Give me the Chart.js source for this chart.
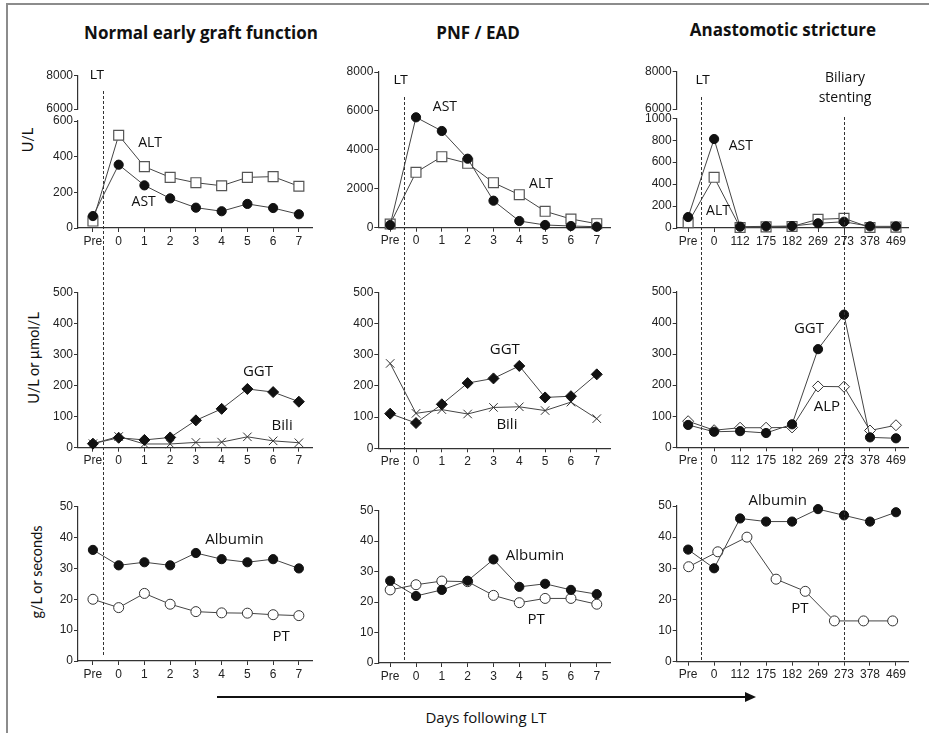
<!DOCTYPE html>
<html>
<head>
<meta charset="utf-8">
<script src="https://cdn.jsdelivr.net/npm/chart.js@4.4.1/dist/chart.umd.min.js"></script>
<style>
  body { margin: 0; background: #fff; width: 929px; height: 733px; overflow: hidden; position: relative; font-family: "Open Sans", sans-serif; }
  #frame { position: absolute; left: 6px; top: 3px; width: 940px; height: 760px; border-left: 2px solid #8c8c8c; border-top: 2px solid #8c8c8c; }
  canvas { position: absolute; }
  .title { position: absolute; font-weight: bold; font-size: 17px; color: #111; white-space: nowrap; transform: translate(-50%, -50%); }
  .ytitle { position: absolute; font-family: Lato, sans-serif; font-size: 14.5px; color: #111; white-space: nowrap; transform: translate(-50%, -50%) rotate(-90deg); }
  #arrow { position: absolute; left: 217px; top: 696px; width: 530px; height: 2px; background: #111; }
  #arrowhead { position: absolute; left: 745px; top: 692px; width: 0; height: 0; border-left: 11px solid #111; border-top: 5px solid transparent; border-bottom: 5px solid transparent; }
  #xlab { position: absolute; left: 486px; top: 717px; font-size: 15px; color: #111; white-space: nowrap; transform: translate(-50%, -50%); }
</style>
</head>
<body>
<div id="frame"></div>
<div class="title" style="left:201px;top:32px">Normal early graft function</div>
<div class="title" style="left:478px;top:32px">PNF / EAD</div>
<div class="title" style="left:783px;top:29px">Anastomotic stricture</div>
<div class="ytitle" style="left:27px;top:140px">U/L</div>
<div class="ytitle" style="left:33px;top:358px">U/L or µmol/L</div>
<div class="ytitle" style="left:36px;top:572px">g/L or seconds</div>
<div id="arrow"></div><div id="arrowhead"></div>
<div id="xlab">Days following LT</div>
<script>
// ---- categories ----
const daysEarly = ["Pre", "0", "1", "2", "3", "4", "5", "6", "7"];
const daysLate = ["Pre", "0", "112", "175", "182", "269", "273", "378", "469"];

// ---- transaminases (U/L) ----
const normalAST = [67, 355, 239, 166, 114, 94, 135, 112, 77];
const normalALT = [39, 520, 344, 284, 254, 237, 284, 288, 234];
const pnfAST = [139, 5672, 4969, 3545, 1387, 344, 139, 87, 51];
const pnfALT = [190, 2846, 3648, 3309, 2312, 1696, 843, 447, 206];
const strictAST = [100, 811, 12, 15, 18, 43, 57, 15, 15];
const strictALT = [48, 462, 5, 10, 14, 79, 88, 5, 8];

// ---- cholestasis (U/L or umol/L) ----
const normalGGT = [13, 32, 25, 33, 88, 125, 189, 179, 148];
const normalBili = [13, 36, 12, 12, 17, 18, 35, 22, 16];
const pnfGGT = [111, 81, 141, 209, 224, 264, 163, 167, 237];
const pnfBili = [272, 112, 124, 110, 131, 133, 121, 148, 95];
const strictGGT = [72, 50, 52, 46, 74, 316, 427, 32, 29];
const strictALP = [84, 55, 63, 63, 64, 196, 195, 54, 71];

// ---- synthetic function (g/L or seconds) ----
const normalAlb = [36, 31, 32, 31, 35, 33, 32, 33, 30];
const normalPT = [20, 17.3, 21.9, 18.4, 16, 15.6, 15.5, 15, 14.7];
const pnfAlb = [27, 22, 24, 27, 34, 25, 26, 24, 22.6];
const pnfPT = [24, 25.7, 26.9, 26.7, 22.2, 19.8, 21.2, 21.2, 19.3];
const strictAlb = [36, 30, 46, 45, 45, 49, 47, 45, 48];
const strictPT = [30.5, 35.3, 40, 26.5, 22.6, 13.1, 13.1, 13.1];

// ---- axis ticks ----
const ticksTopBreak = [6000, 8000];
const ticksLow600 = [0, 200, 400, 600];
const ticksLow1000 = [0, 200, 400, 600, 800, 1000];
const ticks8000 = [0, 2000, 4000, 6000, 8000];
const ticks500 = [0, 100, 200, 300, 400, 500];
const ticks50 = [0, 10, 20, 30, 40, 50];

// layout
const COLS = [
  { left: 8, right: 330, areaLeft: 78, areaRight: 312, xmin: -0.58, xmax: 8.51, lt: 0.41 },
  { left: 335, right: 625, areaLeft: 378.3, areaRight: 610.2, xmin: -0.46, xmax: 8.52, lt: 0.52 },
  { left: 632, right: 929, areaLeft: 676.7, areaRight: 908.7, xmin: -0.44, xmax: 8.49, lt: 0.51 }
];
const ROWS = [{ top: 45, bottom: 247 }, { top: 247, bottom: 467 }, { top: 467, bottom: 690 }];
const Y_W = 40, X_H = 17;
const INK = "#333";
const TICK_FONT = { family: "'Liberation Sans', Arial, sans-serif", size: 12 };
const TAG_FONT_TOP = "14px 'Open Sans', sans-serif";
const TAG_FONT = "15px 'Open Sans', sans-serif";
const LT_FONT = "13px 'Liberation Sans', Arial, sans-serif";

const mk = {
  dot: { pointStyle: "circle", pointRadius: 4.6, pointBackgroundColor: "#111", pointBorderColor: "#111" },
  square: { pointStyle: "rect", pointRadius: 7, pointBackgroundColor: "#fff", pointBorderColor: "#555", pointBorderWidth: 1.2 },
  diamond: { pointStyle: "rectRot", pointRadius: 5.5, pointBackgroundColor: "#111", pointBorderColor: "#111" },
  openDiamond: { pointStyle: "rectRot", pointRadius: 5.5, pointBackgroundColor: "#fff", pointBorderColor: "#333", pointBorderWidth: 1 },
  cross: { pointStyle: "crossRot", pointRadius: 6, pointBackgroundColor: "#fff", pointBorderColor: "#333", pointBorderWidth: 1 },
  ring: { pointStyle: "circle", pointRadius: 5, pointBackgroundColor: "#fff", pointBorderColor: "#333", pointBorderWidth: 1 }
};

function series(data, marker, extra) {
  return Object.assign({
    data: data.map((v, i) => ({ x: i, y: v })),
    borderColor: "#444", borderWidth: 1, tension: 0, fill: false, clip: false,
    xAxisID: "x", yAxisID: "y"
  }, mk[marker], extra || {});
}

function yScale(min, max, ticks, extra) {
  return Object.assign({
    type: "linear", position: "left", min, max,
    afterBuildTicks: s => { s.ticks = ticks.map(v => ({ value: v })); },
    afterFit: s => { s.width = Y_W; },
    ticks: { font: TICK_FONT, color: "#222", padding: 1, autoSkip: false, callback: v => String(v) },
    grid: { drawOnChartArea: false, tickLength: 4, color: INK },
    border: { color: INK, width: 1.2 }
  }, extra || {});
}

function overlay(lines, tags, rowTop, tagFont) {
  return {
    id: "overlay",
    afterDatasetsDraw(chart) {
      const ctx = chart.ctx, xs = chart.scales.x;
      ctx.save();
      ctx.strokeStyle = "#333";
      ctx.lineWidth = 1;
      ctx.setLineDash([3, 2]);
      lines.forEach(l => {
        const px = Math.round(xs.getPixelForValue(l.x)) + 0.5;
        ctx.beginPath();
        ctx.moveTo(px, l.y0 - rowTop);
        ctx.lineTo(px, l.y1 - rowTop);
        ctx.stroke();
      });
      ctx.setLineDash([]);
      ctx.fillStyle = "#111";
      ctx.textAlign = "center";
      ctx.textBaseline = "middle";
      tags.forEach(t => {
        const ys = chart.scales[t.axis || "y"];
        ctx.font = t.font || tagFont;
        ctx.fillText(t.text, xs.getPixelForValue(t.x), ys.getPixelForValue(t.y));
      });
      ctx.restore();
    }
  };
}

function panel(p) {
  const col = COLS[p.col], row = ROWS[p.row];
  const cv = document.createElement("canvas");
  cv.width = col.right - col.left;
  cv.height = row.bottom - row.top;
  cv.style.left = col.left + "px";
  cv.style.top = row.top + "px";
  document.body.appendChild(cv);

  const scales = {
    x: {
      type: "linear", position: "bottom", min: col.xmin, max: col.xmax,
      afterBuildTicks: s => { s.ticks = p.labels.map((_, i) => ({ value: i })); },
      afterFit: s => { s.height = X_H; },
      ticks: { callback: v => p.labels[v], autoSkip: false, maxRotation: 0, padding: 2, font: TICK_FONT, color: "#222" },
      grid: { drawOnChartArea: false, tickLength: 4, color: INK },
      border: { color: INK, width: 1.2 }
    }
  };
  if (p.extraX) Object.assign(scales, p.extraX);
  if (p.brk) {
    // broken axis: left boxes are laid out by descending weight, top first
    scales.yTop = yScale(6000, 8000, ticksTopBreak, { stack: "brk", stackWeight: p.brk[0], weight: 3 });
    scales.yGap = { type: "linear", position: "left", display: false, stack: "brk", stackWeight: p.brk[1], weight: 2, min: 0, max: 1 };
    scales.y = yScale(0, p.yMax, p.yTicks, { stack: "brk", stackWeight: p.brk[2], weight: 1 });
  } else {
    scales.y = yScale(0, p.yMax, p.yTicks);
  }

  const lines = [{ x: col.lt, y0: p.lt[0], y1: p.lt[1] }].concat(p.moreLines || []);
  new Chart(cv, {
    type: "line",
    data: { datasets: p.datasets },
    options: {
      responsive: false, animation: false, events: [],
      layout: {
        padding: {
          left: col.areaLeft - col.left - Y_W,
          right: col.right - col.areaRight,
          top: p.top - row.top,
          bottom: row.bottom - p.bottom - X_H
        }
      },
      scales,
      plugins: { legend: { display: false }, tooltip: { enabled: false } }
    },
    plugins: [overlay(lines, p.tags, row.top, p.row === 0 ? TAG_FONT_TOP : TAG_FONT)]
  });
}

// ---- row 1: AST / ALT ----
panel({
  col: 0, row: 0, top: 75.3, bottom: 228, labels: daysEarly, brk: [33.7, 12, 107], yMax: 600, yTicks: ticksLow600,
  lt: [91, 247],
  datasets: [series(normalAST, "dot"), series(normalALT, "square")],
  tags: [
    { text: "LT", x: 0.16, y: 8000, axis: "yTop", font: LT_FONT },
    { text: "ALT", x: 2.22, y: 477 },
    { text: "AST", x: 1.97, y: 146 }
  ]
});
panel({
  col: 1, row: 0, top: 72, bottom: 227.7, labels: daysEarly, yMax: 8000, yTicks: ticks8000,
  lt: [97, 247],
  datasets: [series(pnfAST, "dot"), series(pnfALT, "square")],
  tags: [
    { text: "LT", x: 0.41, y: 7589, font: LT_FONT },
    { text: "AST", x: 2.12, y: 6202 },
    { text: "ALT", x: 5.84, y: 2245 }
  ]
});
panel({
  col: 2, row: 0, top: 71.7, bottom: 228, labels: daysLate, brk: [37.3, 9.3, 109.7], yMax: 1000, yTicks: ticksLow1000,
  lt: [97, 247], moreLines: [{ x: 6, y0: 117, y1: 247 }],
  datasets: [series(strictAST, "dot"), series(strictALT, "square")],
  tags: [
    { text: "LT", x: 0.57, y: 7555, axis: "yTop", font: LT_FONT },
    { text: "Biliary", x: 6.04, y: 7678, axis: "yTop" },
    { text: "stenting", x: 6.04, y: 6574, axis: "yTop" },
    { text: "AST", x: 2.03, y: 750 },
    { text: "ALT", x: 1.15, y: 155 }
  ]
});

// ---- row 2: GGT / Bili / ALP ----
panel({
  col: 0, row: 1, top: 292.3, bottom: 447.7, labels: daysEarly, yMax: 500, yTicks: ticks500,
  lt: [247, 467],
  datasets: [series(normalGGT, "diamond"), series(normalBili, "cross")],
  tags: [{ text: "GGT", x: 6.41, y: 245 }, { text: "Bili", x: 7.35, y: 71 }]
});
panel({
  col: 1, row: 1, top: 292.3, bottom: 448.3, labels: daysEarly, yMax: 500, yTicks: ticks500,
  lt: [247, 467],
  datasets: [series(pnfGGT, "diamond"), series(pnfBili, "cross")],
  tags: [{ text: "GGT", x: 4.44, y: 317 }, { text: "Bili", x: 4.52, y: 77 }]
});
panel({
  col: 2, row: 1, top: 292, bottom: 447.3, labels: daysLate, yMax: 500, yTicks: ticks500,
  lt: [247, 467], moreLines: [{ x: 6, y0: 247, y1: 467 }],
  datasets: [series(strictGGT, "dot"), series(strictALP, "openDiamond")],
  tags: [{ text: "GGT", x: 4.65, y: 383 }, { text: "ALP", x: 5.34, y: 131 }]
});

// ---- row 3: Albumin / PT ----
panel({
  col: 0, row: 2, top: 506.7, bottom: 661, labels: daysEarly, yMax: 50, yTicks: ticks50,
  lt: [467, 657],
  datasets: [series(normalAlb, "dot"), series(normalPT, "ring")],
  tags: [{ text: "Albumin", x: 5.5, y: 39.2 }, { text: "PT", x: 7.31, y: 7.9 }]
});
panel({
  col: 1, row: 2, top: 510.7, bottom: 663, labels: daysEarly, yMax: 50, yTicks: ticks50,
  lt: [467, 662],
  datasets: [series(pnfAlb, "dot"), series(pnfPT, "ring")],
  tags: [{ text: "Albumin", x: 5.61, y: 35.1 }, { text: "PT", x: 5.65, y: 14.1 }]
});
panel({
  col: 2, row: 2, top: 506, bottom: 661.7, labels: daysLate, yMax: 50, yTicks: ticks50,
  lt: [467, 660], moreLines: [{ x: 6, y0: 467, y1: 661 }],
  extraX: { xpt: { type: "linear", position: "bottom", display: false, min: -0.41, max: 7.55 } },
  datasets: [series(strictAlb, "dot"), series(strictPT, "ring", { xAxisID: "xpt" })],
  tags: [{ text: "Albumin", x: 3.45, y: 51.7 }, { text: "PT", x: 4.3, y: 17.1 }]
});
</script>
</body>
</html>
